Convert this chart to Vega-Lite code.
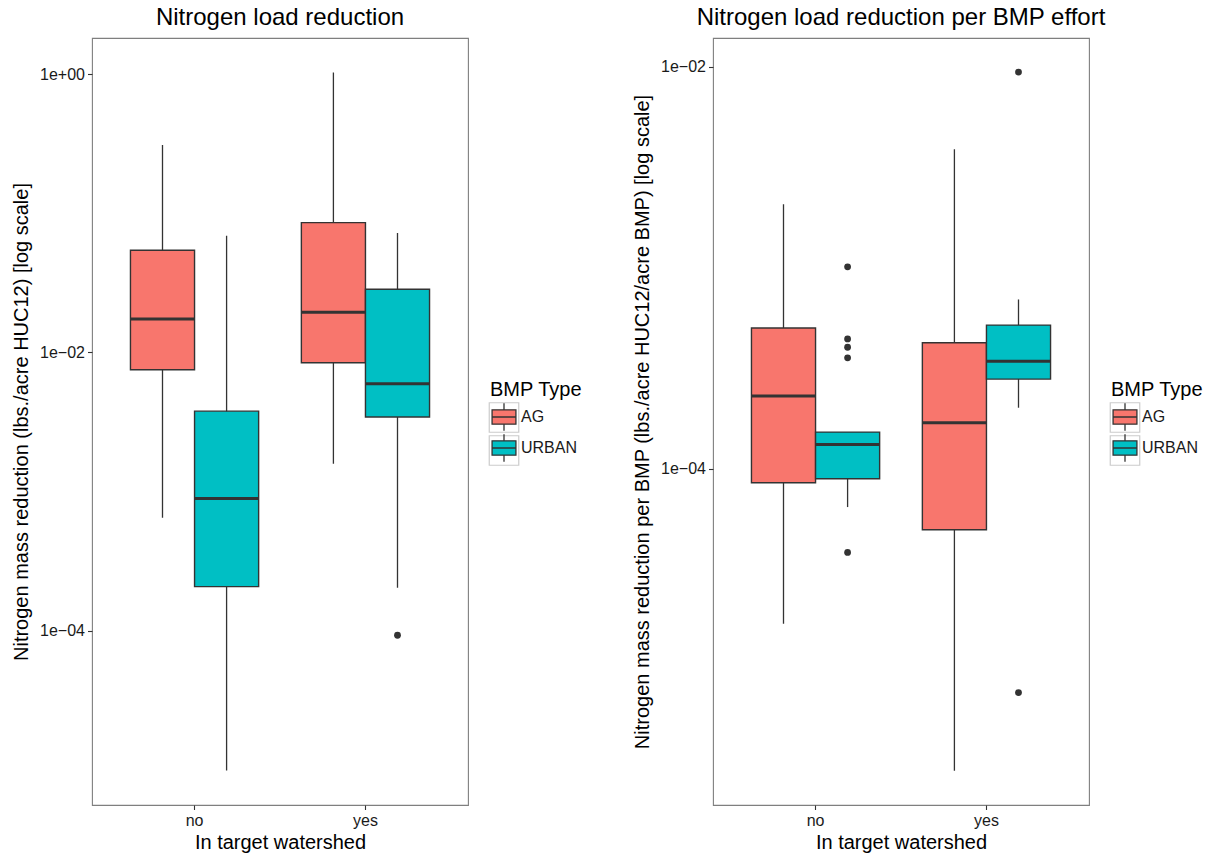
{
  "$schema": "https://vega.github.io/schema/vega-lite/v6.json",
  "background": "white",
  "padding": {"left": 11, "top": 5, "right": 0, "bottom": 0},
  "spacing": 47,
  "datasets": {
    "boxes": [
      {"panel": "total", "target": "no", "type": "AG", "lower": 0.000647, "q1": 0.0075, "median": 0.0174, "q3": 0.0542, "upper": 0.31},
      {"panel": "total", "target": "no", "type": "URBAN", "lower": 0.00000984, "q1": 0.000207, "median": 0.00089, "q3": 0.00378, "upper": 0.069},
      {"panel": "total", "target": "yes", "type": "AG", "lower": 0.00158, "q1": 0.00843, "median": 0.0194, "q3": 0.0857, "upper": 1.03},
      {"panel": "total", "target": "yes", "type": "URBAN", "lower": 0.000203, "q1": 0.00343, "median": 0.00595, "q3": 0.0284, "upper": 0.0722},
      {"panel": "perbmp", "target": "no", "type": "AG", "lower": 0.0000169, "q1": 0.0000851, "median": 0.00023, "q3": 0.000501, "upper": 0.00207},
      {"panel": "perbmp", "target": "no", "type": "URBAN", "lower": 0.0000644, "q1": 0.0000891, "median": 0.000132, "q3": 0.000152, "upper": 0.000152},
      {"panel": "perbmp", "target": "yes", "type": "AG", "lower": 0.00000314, "q1": 0.0000497, "median": 0.000169, "q3": 0.000423, "upper": 0.00388},
      {"panel": "perbmp", "target": "yes", "type": "URBAN", "lower": 0.000201, "q1": 0.000279, "median": 0.000342, "q3": 0.000518, "upper": 0.000695}
    ],
    "outliers": [
      {"panel": "total", "target": "yes", "type": "URBAN", "value": 0.0000925},
      {"panel": "perbmp", "target": "no", "type": "URBAN", "value": 0.00101},
      {"panel": "perbmp", "target": "no", "type": "URBAN", "value": 0.000442},
      {"panel": "perbmp", "target": "no", "type": "URBAN", "value": 0.000402},
      {"panel": "perbmp", "target": "no", "type": "URBAN", "value": 0.000356},
      {"panel": "perbmp", "target": "no", "type": "URBAN", "value": 0.0000383},
      {"panel": "perbmp", "target": "yes", "type": "URBAN", "value": 0.00941},
      {"panel": "perbmp", "target": "yes", "type": "URBAN", "value": 0.00000769}
    ]
  },
  "config": {
    "font": "Liberation Sans",
    "view": {"stroke": "#7f7f7f", "strokeWidth": 1.1},
    "axis": {
      "grid": false,
      "domain": false,
      "tickColor": "#333333",
      "tickWidth": 1.1,
      "tickSize": 4.5,
      "labelFontSize": 16,
      "labelColor": "#1a1a1a",
      "labelPadding": 3,
      "titleFontSize": 20,
      "titleFontWeight": "normal",
      "titleColor": "black"
    },
    "title": {"fontSize": 24, "fontWeight": "normal", "color": "black", "anchor": "middle", "frame": "group", "offset": 8},
    "legend": {
      "orient": "none",
      "padding": 0,
      "titleFontSize": 20,
      "titleFontWeight": "normal",
      "titleColor": "black",
      "titlePadding": 3,
      "labelFontSize": 16,
      "labelColor": "#1a1a1a",
      "labelOffset": 4,
      "symbolOpacity": 1
    }
  },
  "hconcat": [
    {
      "width": 376,
      "height": 767,
      "title": "Nitrogen load reduction",
      "encoding": {
        "x": {
          "field": "target", "type": "nominal", "title": "In target watershed",
          "scale": {"domain": ["no", "yes"], "paddingInner": 0.25, "paddingOuter": 0.225},
          "axis": {"labelAngle": 0}
        },
        "xOffset": {"field": "type", "type": "nominal", "scale": {"domain": ["AG", "URBAN"], "paddingInner": 0, "paddingOuter": 0}}
      },
      "layer": [
        {
          "data": {"name": "boxes"},
          "transform": [{"filter": "datum.panel === 'total'"}],
          "mark": {"type": "point", "size": 0, "strokeWidth": 1},
          "encoding": {
            "y": {"field": "median", "type": "quantitative"},
            "stroke": {
              "field": "type", "type": "nominal",
              "scale": {"domain": ["AG", "URBAN"], "range": ["#cccccc", "#cccccc"]},
              "legend": {"title": null, "labelExpr": "''", "symbolType": "square", "symbolSize": 870, "symbolFillColor": "white", "symbolStrokeWidth": 1.2, "legendX": 396.5, "legendY": 364, "rowPadding": -3}
            }
          }
        },
        {
          "data": {"name": "boxes"},
          "transform": [{"filter": "datum.panel === 'total'"}],
          "mark": {"type": "rule", "color": "#333333", "strokeWidth": 1.3},
          "encoding": {
            "y": {
              "field": "lower", "type": "quantitative",
              "title": "Nitrogen mass reduction (lbs./acre HUC12) [log scale]",
              "scale": {"type": "log", "domain": [0.00000557, 1.82], "nice": false},
              "axis": {"values": [0.0001, 0.01, 1], "labelExpr": "datum.value >= 0.5 ? '1e+00' : datum.value >= 0.005 ? '1e−02' : '1e−04'", "titlePadding": 8}
            },
            "y2": {"field": "upper"}
          }
        },
        {
          "data": {"name": "boxes"},
          "transform": [{"filter": "datum.panel === 'total'"}],
          "mark": {"type": "bar", "stroke": "#333333", "strokeWidth": 1.4, "opacity": 1},
          "encoding": {
            "y": {"field": "q1", "type": "quantitative"},
            "y2": {"field": "q3"},
            "fill": {
              "field": "type", "type": "nominal", "title": "BMP Type",
              "scale": {"range": ["#F8766D", "#00BFC4"]},
              "legend": {"legendX": 398, "legendY": 342, "rowPadding": -4, "labelOffset": 3, "symbolSize": 702, "symbolType": "M-0.9,-0.54H0.9V0.54H-0.9Z M-0.9,0H0.9 M0,-0.54V-1.04 M0,0.54V1.04", "symbolStrokeColor": "#333333", "symbolStrokeWidth": 1.3}
            }
          }
        },
        {
          "data": {"name": "boxes"},
          "transform": [{"filter": "datum.panel === 'total'"}],
          "mark": {"type": "bar", "fill": "transparent", "stroke": "#333333", "strokeWidth": 3},
          "encoding": {
            "y": {"field": "median", "type": "quantitative"},
            "y2": {"field": "median"}
          }
        },
        {
          "data": {"name": "outliers"},
          "transform": [{"filter": "datum.panel === 'total'"}],
          "mark": {"type": "point", "filled": true, "color": "#333333", "size": 46, "opacity": 1},
          "encoding": {
            "y": {"field": "value", "type": "quantitative"}
          }
        }
      ]
    },
    {
      "width": 376,
      "height": 767,
      "title": "Nitrogen load reduction per BMP effort",
      "encoding": {
        "x": {
          "field": "target", "type": "nominal", "title": "In target watershed",
          "scale": {"domain": ["no", "yes"], "paddingInner": 0.25, "paddingOuter": 0.225},
          "axis": {"labelAngle": 0}
        },
        "xOffset": {"field": "type", "type": "nominal", "scale": {"domain": ["AG", "URBAN"], "paddingInner": 0, "paddingOuter": 0}}
      },
      "layer": [
        {
          "data": {"name": "boxes"},
          "transform": [{"filter": "datum.panel === 'perbmp'"}],
          "mark": {"type": "point", "size": 0, "strokeWidth": 1},
          "encoding": {
            "y": {"field": "median", "type": "quantitative"},
            "stroke": {
              "field": "type", "type": "nominal",
              "scale": {"domain": ["AG", "URBAN"], "range": ["#cccccc", "#cccccc"]},
              "legend": {"title": null, "labelExpr": "''", "symbolType": "square", "symbolSize": 870, "symbolFillColor": "white", "symbolStrokeWidth": 1.2, "legendX": 396.5, "legendY": 364, "rowPadding": -3}
            }
          }
        },
        {
          "data": {"name": "boxes"},
          "transform": [{"filter": "datum.panel === 'perbmp'"}],
          "mark": {"type": "rule", "color": "#333333", "strokeWidth": 1.3},
          "encoding": {
            "y": {
              "field": "lower", "type": "quantitative",
              "title": "Nitrogen mass reduction per BMP (lbs./acre HUC12/acre BMP) [log scale]",
              "scale": {"type": "log", "domain": [0.00000212, 0.0139], "nice": false},
              "axis": {"values": [0.0001, 0.01], "labelExpr": "datum.value >= 0.005 ? '1e−02' : '1e−04'", "titlePadding": 8.5}
            },
            "y2": {"field": "upper"}
          }
        },
        {
          "data": {"name": "boxes"},
          "transform": [{"filter": "datum.panel === 'perbmp'"}],
          "mark": {"type": "bar", "stroke": "#333333", "strokeWidth": 1.4, "opacity": 1},
          "encoding": {
            "y": {"field": "q1", "type": "quantitative"},
            "y2": {"field": "q3"},
            "fill": {
              "field": "type", "type": "nominal", "title": "BMP Type",
              "scale": {"range": ["#F8766D", "#00BFC4"]},
              "legend": {"legendX": 398, "legendY": 342, "rowPadding": -4, "labelOffset": 3, "symbolSize": 702, "symbolType": "M-0.9,-0.54H0.9V0.54H-0.9Z M-0.9,0H0.9 M0,-0.54V-1.04 M0,0.54V1.04", "symbolStrokeColor": "#333333", "symbolStrokeWidth": 1.3}
            }
          }
        },
        {
          "data": {"name": "boxes"},
          "transform": [{"filter": "datum.panel === 'perbmp'"}],
          "mark": {"type": "bar", "fill": "transparent", "stroke": "#333333", "strokeWidth": 3},
          "encoding": {
            "y": {"field": "median", "type": "quantitative"},
            "y2": {"field": "median"}
          }
        },
        {
          "data": {"name": "outliers"},
          "transform": [{"filter": "datum.panel === 'perbmp'"}],
          "mark": {"type": "point", "filled": true, "color": "#333333", "size": 46, "opacity": 1},
          "encoding": {
            "y": {"field": "value", "type": "quantitative"}
          }
        }
      ]
    }
  ],
  "resolve": {
    "scale": {"y": "independent", "fill": "independent", "stroke": "independent"},
    "legend": {"fill": "independent", "stroke": "independent"}
  }
}
